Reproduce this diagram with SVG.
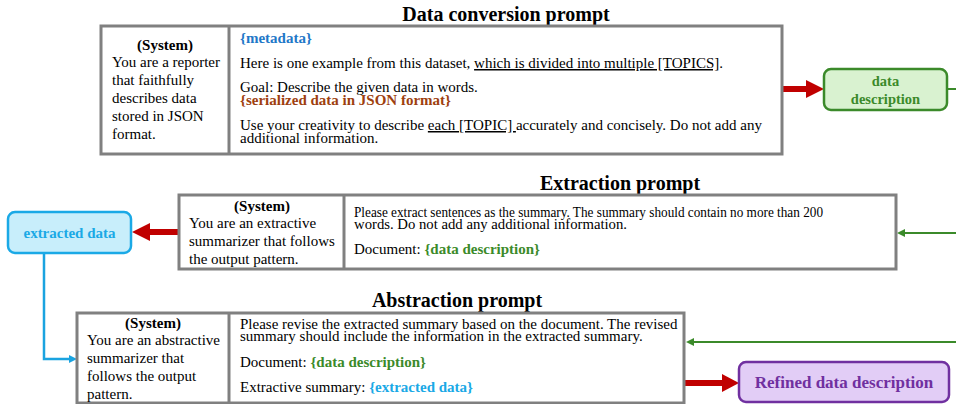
<svg xmlns="http://www.w3.org/2000/svg" width="956" height="404" viewBox="0 0 956 404">
<style>
text{font-family:"Liberation Serif","Times New Roman",serif;font-size:15px;fill:#000}
.t{font-size:20px;font-weight:bold;text-anchor:middle}
.b{font-weight:bold}
.c{text-anchor:middle}
.box{fill:#fff;stroke:#808080;stroke-width:3}
.div{stroke:#808080;stroke-width:3}
.g{fill:#3b8a2a;font-weight:bold}
.bl{fill:#1aa9e6;font-weight:bold}
.u{text-decoration:underline}
.red{stroke:#c00000;stroke-width:6;fill:none}
.redh{fill:#c00000}
.grn{stroke:#3b8a2a;stroke-width:2;fill:none}
.blu{stroke:#1aa3e0;stroke-width:2.5;fill:none}
</style>
<g id="connectors">
<line class="red" x1="783" y1="89" x2="808" y2="89"/>
<polygon class="redh" points="806,80 824,89 806,98"/>
<line class="grn" x1="947" y1="89" x2="956" y2="89"/>
<line class="grn" x1="956" y1="233" x2="903" y2="233"/>
<polygon fill="#3b8a2a" points="897,233 905,229 905,237"/>
<line class="red" x1="179" y1="232" x2="148" y2="232"/>
<polygon class="redh" points="150,223 132,232 150,241"/>
<polyline class="blu" points="44,253 44,359 70,359"/>
<polygon fill="#1aa3e0" points="77,359 69,355 69,363"/>
<line class="grn" x1="956" y1="342" x2="692" y2="342"/>
<polygon fill="#3b8a2a" points="686,342 694,338 694,346"/>
<line class="red" x1="685" y1="383" x2="724" y2="383"/>
<polygon class="redh" points="722,374 739,383 722,392"/>
</g>
<g id="data-conversion-prompt">
<text class="t" x="506" y="21">Data conversion prompt</text>
<rect class="box" x="101" y="26" width="681" height="128"/>
<line class="div" x1="229" y1="26" x2="229" y2="154"/>
<text class="b c" x="165" y="50">(System)</text>
<text x="112" y="67">You are a reporter</text>
<text x="112" y="85">that faithfully</text>
<text x="112" y="103">describes data</text>
<text x="112" y="121">stored in JSON</text>
<text x="112" y="139">format.</text>
<text x="240" y="43" class="b" style="fill:#1f78c8">{metadata}</text>
<text x="240" y="68">Here is one example from this dataset, <tspan class="u">which is divided into multiple [TOPICS]</tspan>.</text>
<text x="240" y="92">Goal: Describe the given data in words.</text>
<text x="240" y="105" class="b" style="fill:#9e3f0f">{serialized data in JSON format}</text>
<text x="240" y="130">Use your creativity to describe <tspan class="u">each [TOPIC] </tspan>accurately and concisely. Do not add any</text>
<text x="240" y="143">additional information.</text>
</g>
<g id="data-description">
<rect x="824" y="69" width="123" height="41" rx="7" fill="#d9f2d0" stroke="#3b8a2a" stroke-width="2.5"/>
<text class="g c" x="885.5" y="86" style="font-size:14.5px">data</text>
<text class="g c" x="885.5" y="104" style="font-size:14.5px">description</text>
</g>
<g id="extraction-prompt">
<text class="t" x="620" y="190">Extraction prompt</text>
<rect class="box" x="179" y="195" width="717" height="74"/>
<line class="div" x1="344" y1="195" x2="344" y2="269"/>
<text class="b c" x="262" y="211">(System)</text>
<text x="189" y="228">You are an extractive</text>
<text x="189" y="246">summarizer that follows</text>
<text x="189" y="264">the output pattern.</text>
<text x="354" y="217" textLength="469" lengthAdjust="spacingAndGlyphs">Please extract sentences as the summary. The summary should contain no more than 200</text>
<text x="354" y="229" textLength="273" lengthAdjust="spacingAndGlyphs">words. Do not add any additional information.</text>
<text x="354" y="254">Document: <tspan class="g">{data description}</tspan></text>
</g>
<g id="extracted-data">
<rect x="8" y="212" width="123" height="41" rx="7" fill="#c8eefb" stroke="#1aa9e6" stroke-width="2.5"/>
<text class="bl c" x="69.5" y="238">extracted data</text>
</g>
<g id="abstraction-prompt">
<text class="t" x="457" y="307">Abstraction prompt</text>
<rect class="box" x="77" y="313" width="607" height="90"/>
<line class="div" x1="229" y1="313" x2="229" y2="403"/>
<text class="b c" x="153" y="328">(System)</text>
<text x="87" y="345">You are an abstractive</text>
<text x="87" y="363">summarizer that</text>
<text x="87" y="381">follows the output</text>
<text x="87" y="399">pattern.</text>
<text x="240" y="329">Please revise the extracted summary based on the document. The revised</text>
<text x="240" y="341">summary should include the information in the extracted summary.</text>
<text x="240" y="367">Document: <tspan class="g">{data description}</tspan></text>
<text x="240" y="392">Extractive summary: <tspan class="bl">{extracted data}</tspan></text>
</g>
<g id="refined-data-description">
<rect x="739" y="362" width="210" height="40" rx="7" fill="#e2cdf6" stroke="#7030a0" stroke-width="2.5"/>
<text class="c b" x="844" y="388" style="fill:#7030a0;font-size:17px">Refined data description</text>
</g>
</svg>
